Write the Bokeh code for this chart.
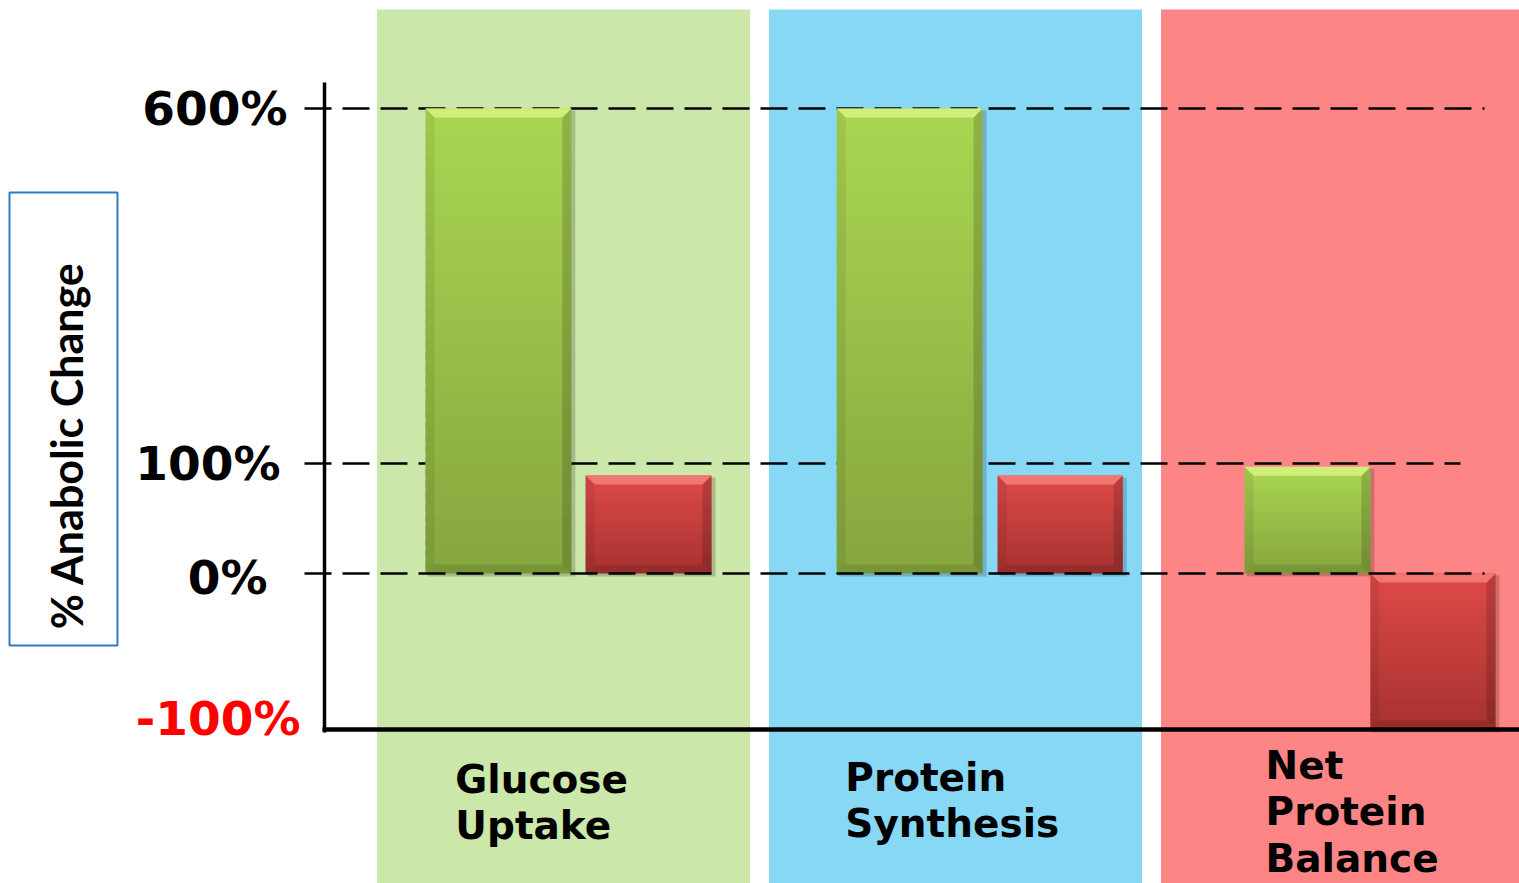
import numpy as np
from bokeh.plotting import figure
from bokeh.models import Range1d
from bokeh.core.properties import value
from bokeh.embed import file_html
from bokeh.resources import INLINE

# ---------------- data ----------------
categories = ["Glucose\nUptake", "Protein\nSynthesis", "Net\nProtein\nBalance"]
green_values = [600, 600, 97]     # % anabolic change (green bars)
red_values = [89, 89, -100]       # % anabolic change (red bars)
tick_values = [-100, 0, 100, 600]
tick_labels = ["-100%", "0%", "100%", "600%"]
axis_title = "% Anabolic Change"

# ---------------- layout / style ----------------
# broken value axis: drawn positions of the tick values
scale_stops = [-141.8, 0.0, 100.0, 422.7]
PITCH, C0 = 392.0, 563.0
W, H = 1519, 883


def ymap(v):
    return float(np.interp(v, tick_values, scale_stops))


def px(xref):
    return (xref - C0) / PITCH


def py(yref):
    return (573.0 - yref) / 1.1


panel_colors = ["#cbe7aa", "#87d8f5", "#fd8585"]
panel_half = 0.4758
green_off = [-0.166, -0.117, -0.102]
green_w = [0.372, 0.372, 0.321]
red_off = [0.217, 0.267, 0.218]
red_w = [0.321, 0.319, 0.319]
label_off = [-0.276, -0.281, -0.209]
label_top = [756, 754, 742]
tick_right = [300, 267, 280, 287]
tick_shift = [11, -4, 0, 0]
tick_colors = ["#ff0000", "black", "black", "black"]
dash_ends = {600: 1484, 100: 1460, 0: 1484}

p = figure(width=W, height=H, x_range=Range1d(px(0), px(W)),
           y_range=Range1d(py(H), py(0)), output_backend="svg",
           toolbar_location=None, min_border=0)
p.axis.visible = False
p.grid.visible = False
p.outline_line_color = None
p.background_fill_color = "white"
p.border_fill_color = "white"

# background panels
n = len(categories)
p.quad(left=[i - panel_half for i in range(n)], right=[i + panel_half for i in range(n)],
       bottom=py(H + 20), top=py(9), fill_color=panel_colors, line_color=None)

# reference dashed lines (behind bars)
for v in (600, 100):
    p.segment(x0=px(304), x1=px(dash_ends[v]), y0=ymap(v), y1=ymap(v),
              line_color="black", line_width=2.5, line_dash="27 11")


def hexc(c):
    return "#%02x%02x%02x" % tuple(int(round(x)) for x in c)


def draw_bar(xc, w, v, c_top, c_bot, c_bevel):
    y0, y1 = ymap(0), ymap(v)
    top, bot = max(y0, y1), min(y0, y1)
    l, r = xc - w / 2, xc + w / 2
    # soft shadow
    p.quad(left=l + 2 / PITCH, right=r + 4 / PITCH, top=top - 2 / 1.1, bottom=bot - 3 / 1.1,
           fill_color="black", fill_alpha=0.18, line_color=None)
    N = 40
    edges = np.linspace(top, bot, N + 1)
    ov = (top - bot) / N * 0.6
    cols = [hexc(np.array(c_top) + (np.array(c_bot) - np.array(c_top)) * (k + 0.5) / N) for k in range(N)]
    bottoms = np.maximum(edges[1:] - ov, bot)
    p.quad(left=l, right=r, top=edges[:-1], bottom=bottoms, fill_color=cols, line_color=None)
    b, bh = 9 / PITCH, 9 / 1.1
    # side bevels
    p.patch([l, l + b, l + b, l], [top, top - bh, bot + bh, bot], fill_color="black", fill_alpha=0.07, line_color=None)
    p.patch([r, r - b, r - b, r], [top, top - bh, bot + bh, bot], fill_color="black", fill_alpha=0.16, line_color=None)
    p.patch([l, r, r - b, l + b], [bot, bot, bot + bh, bot + bh], fill_color="black", fill_alpha=0.10, line_color=None)
    # top bevel
    p.patch([l, r, r - b, l + b], [top, top, top - bh, top - bh], fill_color=c_bevel, line_color=None)


for i in range(n):
    draw_bar(i + green_off[i], green_w[i], green_values[i], (170, 214, 82), (134, 166, 62), "#d2ee7a")
    draw_bar(i + red_off[i], red_w[i], red_values[i], (222, 74, 72), (166, 50, 48), "#f27672")

# zero line on top of bars
p.segment(x0=px(304), x1=px(dash_ends[0]), y0=ymap(0), y1=ymap(0),
          line_color="black", line_width=2.5, line_dash="27 11")

# axes
p.segment(x0=px(324), x1=px(324), y0=py(82), y1=py(732), line_color="black", line_width=3.5)
p.segment(x0=px(322), x1=px(W + 10), y0=ymap(-100), y1=ymap(-100), line_color="black", line_width=4.5)

# tick labels
p.text(x=[px(t) for t in tick_right], y=[ymap(v) + s / 1.1 for v, s in zip(tick_values, tick_shift)],
       text=tick_labels, text_color=tick_colors, text_align="right", text_baseline="middle",
       text_font=value("DejaVu Sans"), text_font_style="bold", text_font_size="47px")

# category labels
p.text(x=[i + label_off[i] for i in range(n)], y=[py(t) for t in label_top], text=categories,
       text_align="left", text_baseline="top", text_font=value("DejaVu Sans"),
       text_font_style="bold", text_font_size="39px", text_line_height=1.04, text_color="black")

# y-axis title box
p.quad(left=px(9), right=px(117), bottom=py(645), top=py(192), fill_color="white",
       line_color="#2e7bc4", line_width=2)
p.text(x=[px(66)], y=[py(445)], text=[axis_title], angle=np.pi / 2, text_align="center",
       text_baseline="middle", text_font=value("Lato"), text_font_style="bold",
       text_font_size="43px", text_color="black")

open("out.html", "w").write(file_html(p, INLINE))
